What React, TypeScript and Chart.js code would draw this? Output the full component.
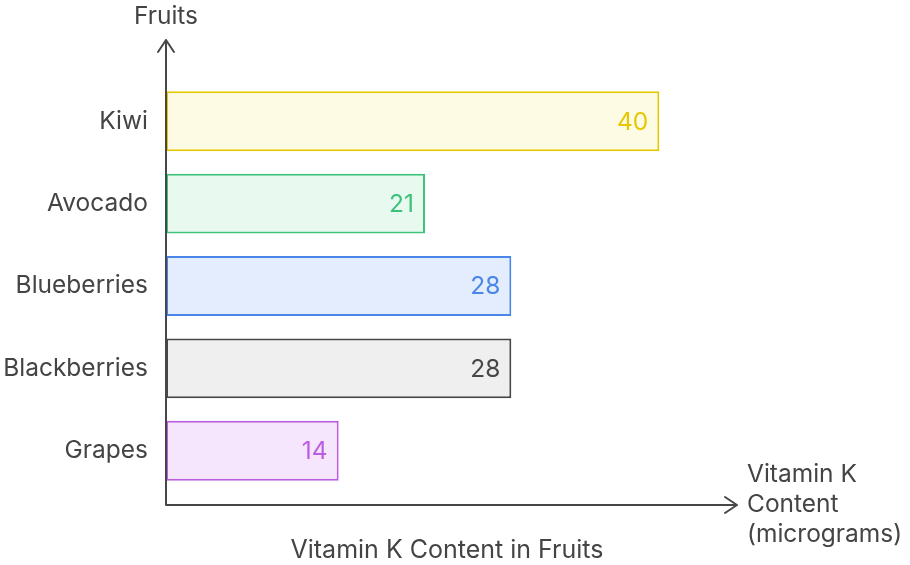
import React, { useEffect, useRef } from "react";
import { Chart, registerables } from "chart.js";

Chart.register(...registerables);

const categories = ["Kiwi", "Avocado", "Blueberries", "Blackberries", "Grapes"];
const values = [40, 21, 28, 28, 14];
const borderColors = ["#E5C800", "#3CC27A", "#4A86E8", "#474747", "#BC5CE0"];
const fillColors = ["#FEFBE5", "#E8F9F0", "#E3EDFD", "#EFEFEF", "#F6E6FD"];
const chartTitle = "Vitamin K Content in Fruits";
const yAxisTitle = "Fruits";
const xAxisTitleLines = ["Vitamin K", "Content", "(micrograms)"];

const FONT = "Inter, Roboto, 'Noto Sans', sans-serif";
const FS = 24.5;
const TEXT = "#444444";

export default function App() {
  const ref = useRef<HTMLCanvasElement | null>(null);

  useEffect(() => {
    document.body.style.margin = "0";
    const canvas = ref.current;
    if (!canvas) return;

    const overlay = {
      id: "overlay",
      afterDatasetsDraw(chart: any) {
        const ctx = chart.ctx;
        const xs = chart.scales.x;
        const ys = chart.scales.y;
        const meta = chart.getDatasetMeta(0);
        // value labels
        ctx.save();
        ctx.font = `${FS}px ${FONT}`;
        ctx.textAlign = "right";
        ctx.textBaseline = "middle";
        meta.data.forEach((bar: any, i: number) => {
          ctx.fillStyle = borderColors[i];
          ctx.fillText(String(values[i]), bar.x - 11, bar.y + 1);
        });
        ctx.restore();

        // axes
        const x0 = xs.left;
        const yBase = ys.bottom + 13;
        const yTop = 40;
        const xEnd = xs.right;
        ctx.save();
        ctx.strokeStyle = "#474747";
        ctx.lineWidth = 2;
        ctx.lineCap = "round";
        ctx.lineJoin = "round";
        ctx.beginPath();
        ctx.moveTo(x0, yBase);
        ctx.lineTo(x0, yTop);
        ctx.moveTo(x0 - 8, yTop + 12);
        ctx.lineTo(x0, yTop);
        ctx.lineTo(x0 + 8, yTop + 12);
        ctx.moveTo(x0, yBase);
        ctx.lineTo(xEnd, yBase);
        ctx.moveTo(xEnd - 12, yBase - 8);
        ctx.lineTo(xEnd, yBase);
        ctx.lineTo(xEnd - 12, yBase + 8);
        ctx.stroke();

        ctx.fillStyle = TEXT;
        ctx.font = `${FS}px ${FONT}`;
        ctx.textBaseline = "middle";
        ctx.textAlign = "center";
        ctx.fillText(yAxisTitle, x0, 17);
        ctx.font = `25px ${FONT}`;
        ctx.fillText(chartTitle, 447, 550);
        ctx.font = `${FS}px ${FONT}`;
        ctx.textAlign = "left";
        xAxisTitleLines.forEach((line, i) => {
          ctx.fillText(line, xEnd + 10, 475 + i * 30);
        });
        ctx.restore();
      },
    };

    const chart = new Chart(canvas, {
      type: "bar",
      data: {
        labels: categories,
        datasets: [
          {
            data: values,
            backgroundColor: fillColors,
            borderColor: borderColors,
            borderWidth: 2,
            borderSkipped: false,
            categoryPercentage: 1,
            barPercentage: 0.727,
          },
        ],
      },
      options: {
        indexAxis: "y",
        responsive: false,
        animation: false,
        maintainAspectRatio: false,
        layout: { padding: { left: 0, right: 173, top: 80, bottom: 73 } },
        plugins: {
          legend: { display: false },
          tooltip: { enabled: false },
          title: { display: false },
        },
        scales: {
          x: {
            type: "linear",
            display: false,
            min: 0,
            max: 46.3,
          },
          y: {
            type: "category",
            grid: { display: false, drawTicks: false },
            border: { display: false },
            ticks: {
              padding: 18,
              color: TEXT,
              font: { size: FS, family: FONT },
            },
            afterFit(scale: any) {
              scale.width = 166;
            },
          },
        },
      },
      plugins: [overlay],
    });

    return () => chart.destroy();
  }, []);

  return (
    <div style={{ position: "absolute", left: 0, top: 0, width: 910, height: 565 }}>
      <canvas ref={ref} width={910} height={565} style={{ width: 910, height: 565 }} />
    </div>
  );
}
